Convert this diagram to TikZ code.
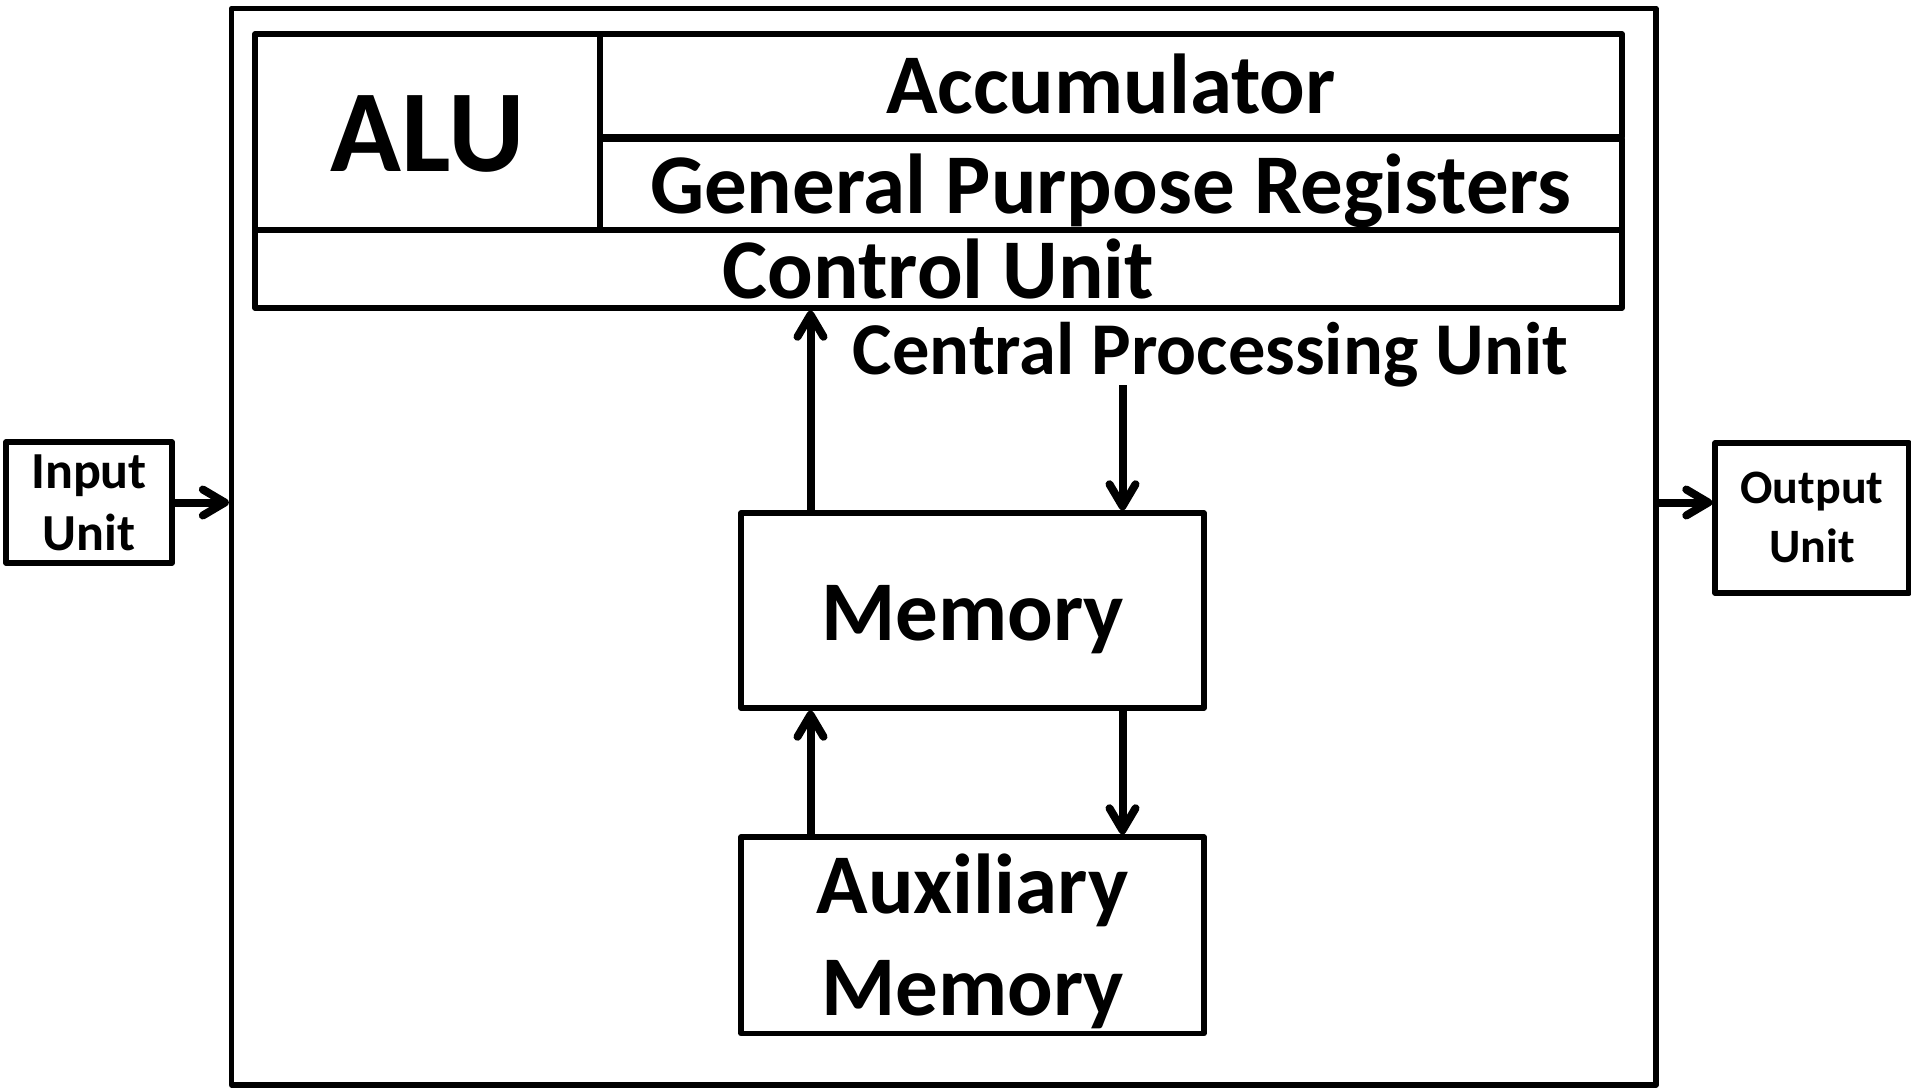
\documentclass[tikz,border=0pt]{standalone}
\usepackage{fontspec}
\setmainfont{Carlito}
\usetikzlibrary{arrows.meta}

\tikzset{
  % one unit = one pixel, y grows downwards
  x=1pt, y=-1pt,
  blk/.style={draw=black, line width=5.5pt, line join=round, inner sep=0pt, text depth=0pt},
  big/.style={font=\bfseries\fontsize{85}{102}\selectfont},
  huge/.style={font=\bfseries\fontsize{117}{117}\selectfont},
  flow/.style={draw=black, line width=8pt, -{Straight Barb[length=22pt,width=26pt,round]}},
}

\begin{document}
\begin{tikzpicture}
\useasboundingbox[fill=white] (0,0) rectangle (1911,1087);

% computer frame
\node[blk, minimum width=1424.4pt, minimum height=1076.5pt] (outer) at (943.8,546.75) {};

% processor block
\node[blk, huge, text height=79.4pt, minimum width=345pt, minimum height=196pt] (alu) at (427.5,132) {ALU};
\node[blk, big, text height=55.6pt, minimum width=1022pt, minimum height=103pt] (acc) at (1111,85.5) {Accumulator};
\node[blk, big, text height=57.6pt, minimum width=1022pt, minimum height=91pt] (gpr) at (1111,184.5) {General Purpose Registers};
\node[blk, big, text height=58pt, minimum width=1367pt, minimum height=78pt] (cu) at (938.5,269) {Control Unit};
\node[anchor=base, inner sep=0pt, font=\bfseries\fontsize{74.5}{74.5}\selectfont] (cpulbl) at (1210.5,374) {Central Processing Unit};

% memories
\node[blk, big, text height=59pt, minimum width=463pt, minimum height=195pt] (mem) at (972.5,610.5) {Memory};
\node[blk, big, text height=159.5pt, align=center,
      minimum width=463pt, minimum height=196.5pt] (aux) at (972.5,935.25) {Auxiliary\\Memory};

% peripherals
\node[blk, align=center, font=\bfseries\fontsize{52}{62}\selectfont, text height=95pt,
      minimum width=166pt, minimum height=121pt] (input) at (89,502.5) {Input\\Unit};
\node[blk, align=center, font=\bfseries\fontsize{48}{59}\selectfont, text height=89pt,
      minimum width=194pt, minimum height=150pt] (output) at (1812,518) {Output\\Unit};

% connector columns
\coordinate (lx) at (810.5,0);
\coordinate (rx) at (1122.5,0);
\coordinate (cpuout) at (1122.5,385);

\draw[flow] (mem.north -| lx) -- (cu.south -| lx);
\draw[flow] (cpuout) -- (mem.north -| rx);
\draw[flow] (aux.north -| lx) -- (mem.south -| lx);
\draw[flow] (mem.south -| rx) -- (aux.north -| rx);

\draw[flow] (input.east) -- (input.east -| outer.west);
\draw[flow] (outer.east |- input.east) -- (output.west |- input.east);
\end{tikzpicture}
\end{document}
